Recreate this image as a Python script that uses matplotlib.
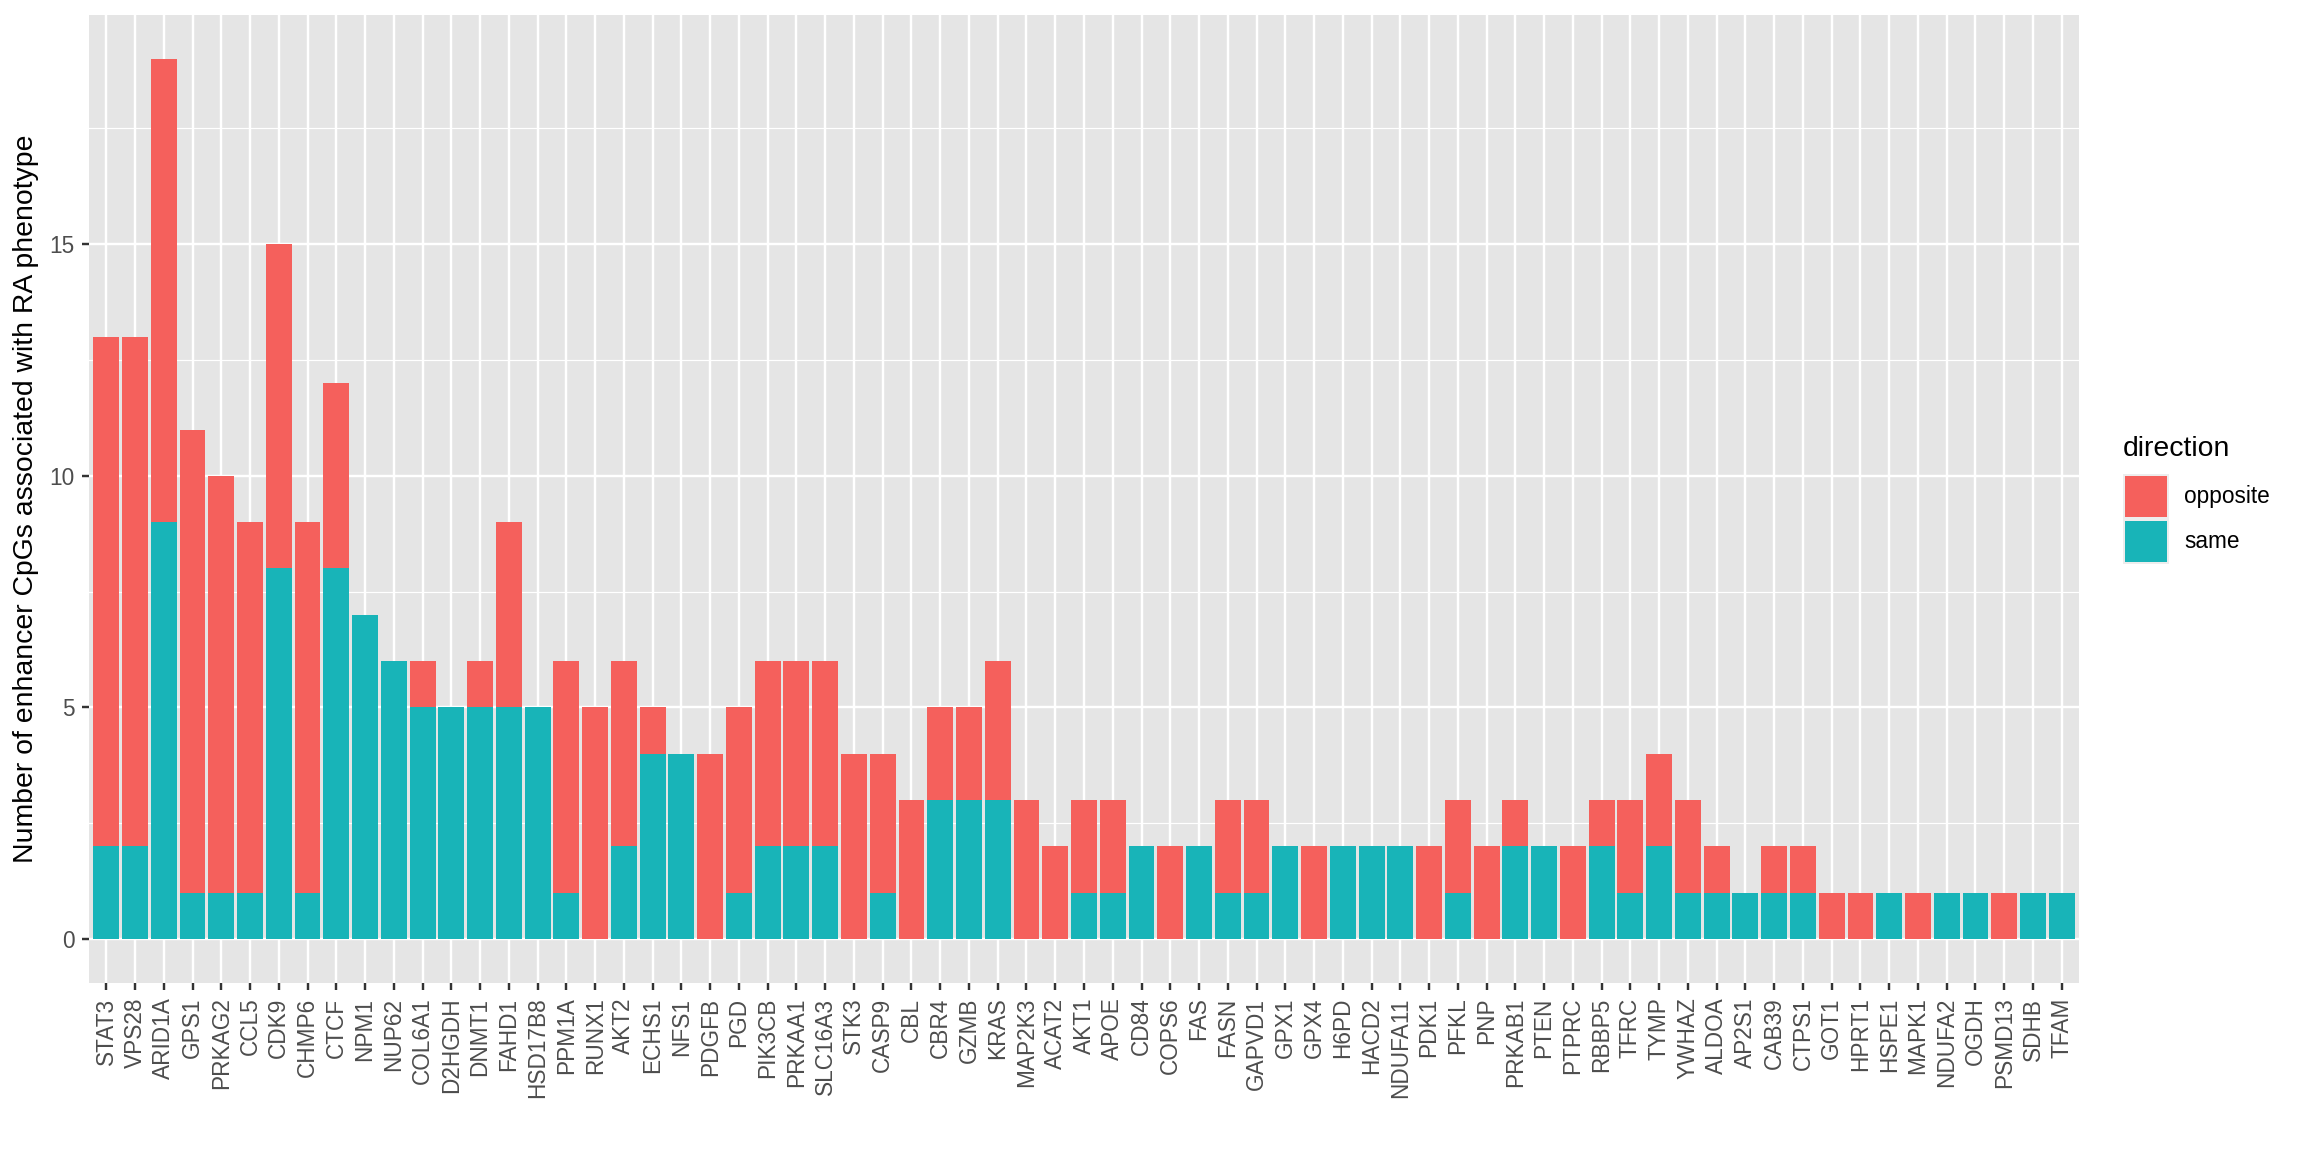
import numpy as np
import matplotlib
matplotlib.use("Agg")
import matplotlib.pyplot as plt
from matplotlib.patches import Rectangle


# =========================
# Data
# =========================

genes = [
    "STAT3", "VPS28", "ARID1A", "GPS1", "PRKAG2", "CCL5", "CDK9", "CHMP6", "CTCF", "NPM1",
    "NUP62", "COL6A1", "D2HGDH", "DNMT1", "FAHD1", "HSD17B8", "PPM1A", "RUNX1", "AKT2", "ECHS1",
    "NFS1", "PDGFB", "PGD", "PIK3CB", "PRKAA1", "SLC16A3", "STK3", "CASP9", "CBL", "CBR4",
    "GZMB", "KRAS", "MAP2K3", "ACAT2", "AKT1", "APOE", "CD84", "COPS6", "FAS", "FASN",
    "GAPVD1", "GPX1", "GPX4", "H6PD", "HACD2", "NDUFA11", "PDK1", "PFKL", "PNP", "PRKAB1",
    "PTEN", "PTPRC", "RBBP5", "TFRC", "TYMP", "YWHAZ", "ALDOA", "AP2S1", "CAB39", "CTPS1",
    "GOT1", "HPRT1", "HSPE1", "MAPK1", "NDUFA2", "OGDH", "PSMD13", "SDHB", "TFAM",
]

same_counts = [
    2, 2, 9, 1, 1, 1, 8, 1, 8, 7,
    6, 5, 5, 5, 5, 5, 1, 0, 2, 4,
    4, 0, 1, 2, 2, 2, 0, 1, 0, 3,
    3, 3, 0, 0, 1, 1, 2, 0, 2, 1,
    1, 2, 0, 2, 2, 2, 0, 1, 0, 2,
    2, 0, 2, 1, 2, 1, 1, 1, 1, 1,
    0, 0, 1, 0, 1, 1, 0, 1, 1,
]

opposite_counts = [
    11, 11, 10, 10, 9, 8, 7, 8, 4, 0,
    0, 1, 0, 1, 4, 0, 5, 5, 4, 1,
    0, 4, 4, 4, 4, 4, 4, 3, 3, 2,
    2, 3, 3, 2, 2, 2, 0, 2, 0, 2,
    2, 0, 2, 0, 0, 0, 2, 2, 2, 1,
    0, 2, 1, 2, 2, 2, 1, 0, 1, 1,
    1, 1, 0, 1, 0, 0, 1, 0, 0,
]

directions = ["opposite", "same"]
y_ticks = [0, 5, 10, 15]
y_minor = [2.5, 7.5, 12.5, 17.5]


# =========================
# Style
# =========================

plt.rcParams["font.family"] = ["Liberation Sans", "DejaVu Sans"]

color_opposite = "#F5605C"
color_same = "#18B4B8"
panel_color = "#E5E5E5"

W, H = 2304, 1152
dpi = 100


def fx(px):
    return px / W


def fy(py):
    return 1 - py / H


# =========================
# Plot
# =========================

fig = plt.figure(figsize=(W / dpi, H / dpi), dpi=dpi)
ax = fig.add_axes([fx(89), fy(983), fx(2079) - fx(89), fy(15) - fy(983)])
ax.set_facecolor(panel_color)

x = np.arange(len(genes))
same = np.array(same_counts)
opposite = np.array(opposite_counts)

ax.bar(x, same, width=0.9, color=color_same, linewidth=0, zorder=3)
ax.bar(x, opposite, width=0.9, bottom=same, color=color_opposite, linewidth=0, zorder=3)

ax.set_xlim(-0.6, len(genes) - 0.4)
ymax = (same + opposite).max()
ax.set_ylim(-0.05 * ymax, ymax * 1.05)

ax.set_xticks(x)
ax.set_xticklabels(genes, rotation=90, ha="center", va="top")
ax.set_yticks(y_ticks)
ax.set_yticks(y_minor, minor=True)

ax.grid(which="major", color="white", linewidth=1.75, zorder=1)
ax.grid(which="minor", axis="y", color="white", linewidth=0.85, zorder=1)
ax.set_axisbelow(True)

for spine in ax.spines.values():
    spine.set_visible(False)

ax.tick_params(axis="both", which="major", length=5, width=1.75, color="#333333",
               labelcolor="#4D4D4D", labelsize=16.3, pad=5.5)
ax.tick_params(axis="y", which="minor", length=0)

ax.set_ylabel("Number of enhancer CpGs associated with RA phenotype",
              fontsize=20.4, color="black", labelpad=7)

# legend
fig.text(fx(2123), fy(456), "direction", fontsize=20.4, color="black",
         ha="left", va="baseline")

key_colors = [color_opposite, color_same]
for i, (label, col) in enumerate(zip(directions, key_colors)):
    top = 474 + i * 45
    fig.add_artist(Rectangle((fx(2123), fy(top + 45)), fx(46), fy(0) - fy(45),
                             transform=fig.transFigure, facecolor="#EDEDED",
                             edgecolor="none"))
    fig.add_artist(Rectangle((fx(2125), fy(top + 43)), fx(42), fy(0) - fy(41),
                             transform=fig.transFigure, facecolor=col,
                             edgecolor="none"))
    fig.text(fx(2184), fy(top + 22.5), label, fontsize=16.3, color="black",
             ha="left", va="center")

fig.savefig("out.png", dpi=dpi)
